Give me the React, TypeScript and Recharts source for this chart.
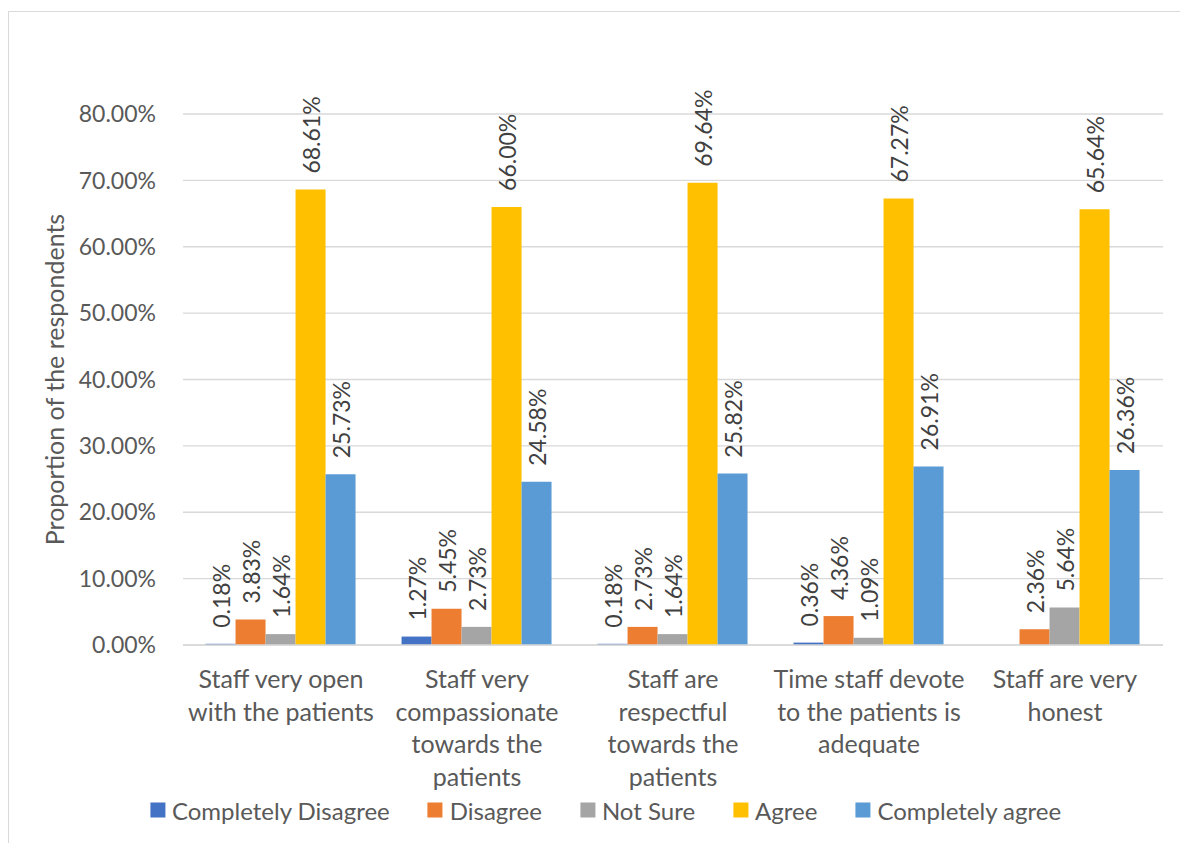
import React from "react";
import { BarChart, Bar, XAxis, YAxis, CartesianGrid, LabelList, Label } from "recharts";

const categories = [
  "Staff very open with the patients",
  "Staff very compassionate towards the patients",
  "Staff are respectful towards the patients",
  "Time staff devote to the patients is adequate",
  "Staff are very honest",
];
const categoryLines = [
  ["Staff very open", "with the patients"],
  ["Staff very", "compassionate", "towards the", "patients"],
  ["Staff are", "respectful", "towards the", "patients"],
  ["Time staff devote", "to the patients is", "adequate"],
  ["Staff are very", "honest"],
];
const completelyDisagree = [0.18, 1.27, 0.18, 0.36, null];
const disagree = [3.83, 5.45, 2.73, 4.36, 2.36];
const notSure = [1.64, 2.73, 1.64, 1.09, 5.64];
const agree = [68.61, 66.0, 69.64, 67.27, 65.64];
const completelyAgree = [25.73, 24.58, 25.82, 26.91, 26.36];
const yTicks = [0, 10, 20, 30, 40, 50, 60, 70, 80];

const seriesList = [
  { key: "cd", name: "Completely Disagree", color: "#4472C4", values: completelyDisagree },
  { key: "d", name: "Disagree", color: "#ED7D31", values: disagree },
  { key: "ns", name: "Not Sure", color: "#A5A5A5", values: notSure },
  { key: "a", name: "Agree", color: "#FFC000", values: agree },
  { key: "ca", name: "Completely agree", color: "#5B9BD5", values: completelyAgree },
];

const data = categories.map((c, i) => {
  const row: any = { name: c, idx: i };
  seriesList.forEach((s) => {
    row[s.key] = s.values[i];
  });
  return row;
});

const FONT = "Lato, 'Liberation Sans', sans-serif";
const TEXT = "#595959";

const fmt = (v: number) => `${v.toFixed(2)}%`;

const XTick = (props: any) => {
  const { x, y, index } = props;
  const lines = categoryLines[index] || [];
  return (
    <text x={x} y={y + 43} textAnchor="middle" fill={TEXT} fontSize={25} fontFamily={FONT}>
      {lines.map((l, i) => (
        <tspan key={i} x={x} dy={i === 0 ? 0 : 32.5}>
          {l}
        </tspan>
      ))}
    </text>
  );
};

const RotLabel = (props: any) => {
  const { x, y, width, value } = props;
  if (value === null || value === undefined) return null;
  const cx = x + width / 2;
  const ty = y - 16;
  return (
    <text
      x={cx}
      y={ty}
      transform={`rotate(-90 ${cx} ${ty})`}
      textAnchor="start"
      dominantBaseline="central"
      fill="#404040"
      fontSize={23}
      fontFamily={FONT}
    >
      {fmt(Number(value))}
    </text>
  );
};

export default function App() {
  return (
    <div
      style={{
        position: "fixed",
        left: 8,
        top: 11,
        width: 1172,
        height: 832,
        borderLeft: "1px solid #d9d9d9",
        borderTop: "1px solid #d9d9d9",
        background: "#fff",
        boxSizing: "border-box",
        overflow: "hidden",
        zIndex: 10,
      }}
    >
      <BarChart
        width={1171}
        height={831}
        data={data}
        margin={{ top: 102, right: 17, left: 0, bottom: 58 }}
        barCategoryGap="11.5%"
        barGap={0}
      >
        <CartesianGrid vertical={false} stroke="#d9d9d9" strokeWidth={1.3} />
        <XAxis
          dataKey="name"
          height={140}
          interval={0}
          tick={<XTick />}
          tickLine={false}
          tickSize={0}
          tickMargin={0}
          axisLine={{ stroke: "#d9d9d9", strokeWidth: 1.3 }}
        />
        <YAxis
          width={174}
          domain={[0, 80]}
          ticks={yTicks}
          tickFormatter={fmt}
          axisLine={false}
          tickLine={false}
          tickSize={0}
          tickMargin={27}
          tick={{ fill: TEXT, fontSize: 23, fontFamily: FONT }}
        >
          <Label
            content={() => (
              <text
                x={45}
                y={367.5}
                transform="rotate(-90 45 367.5)"
                textAnchor="middle"
                dominantBaseline="central"
                fill={TEXT}
                fontSize={25}
                fontFamily={FONT}
              >
                Proportion of the respondents
              </text>
            )}
          />
        </YAxis>
        {seriesList.map((s) => (
          <Bar key={s.key} dataKey={s.key} name={s.name} fill={s.color} isAnimationActive={false}>
            <LabelList dataKey={s.key} content={<RotLabel />} />
          </Bar>
        ))}
      </BarChart>
      <div
        style={{
          position: "absolute",
          left: 596.5,
          top: 798,
          transform: "translate(-50%, -50%)",
          display: "flex",
          alignItems: "center",
          whiteSpace: "nowrap",
          fontFamily: FONT,
          fontSize: 24,
          color: TEXT,
        }}
      >
        {seriesList.map((s, i) => (
          <div
            key={s.key}
            style={{ display: "flex", alignItems: "center", marginLeft: i === 0 ? 0 : 38 }}
          >
            <div style={{ width: 15, height: 15, background: s.color, marginRight: 7 }} />
            <span>{s.name}</span>
          </div>
        ))}
      </div>
    </div>
  );
}
